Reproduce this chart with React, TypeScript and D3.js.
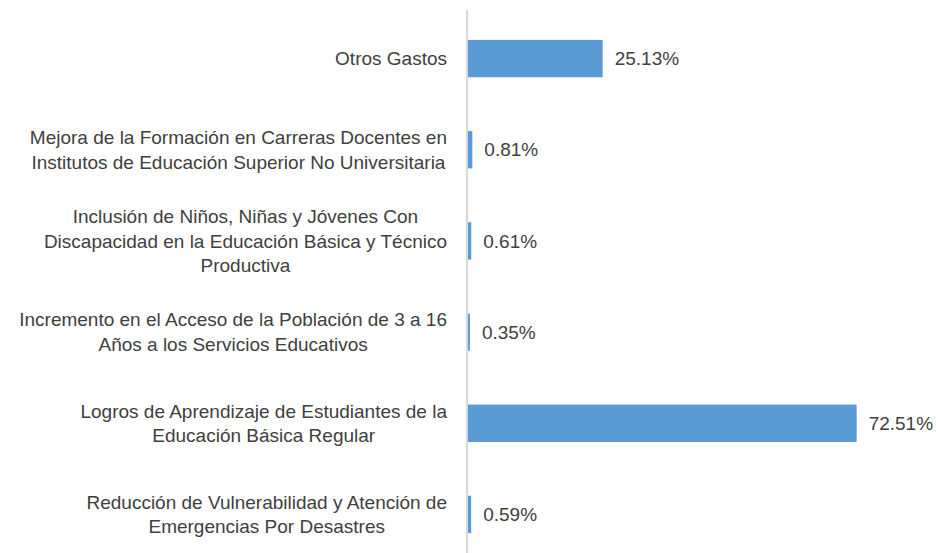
import React, { useEffect, useRef } from "react";
import * as d3 from "d3";

// categories, top to bottom, already split into lines as in the picture
const categories = [
  ["Otros Gastos"],
  ["Mejora de la Formación en Carreras Docentes en", "Institutos de Educación Superior No Universitaria"],
  ["Inclusión de Niños, Niñas y Jóvenes Con", "Discapacidad en la Educación Básica y Técnico", "Productiva"],
  ["Incremento en el Acceso de la Población de 3 a 16", "Años a los Servicios Educativos"],
  ["Logros de Aprendizaje de Estudiantes de la", "Educación Básica Regular"],
  ["Reducción de Vulnerabilidad y Atención de", "Emergencias Por Desastres"],
];
const values = [25.13, 0.81, 0.61, 0.35, 72.51, 0.59];
const valueLabels = ["25.13%", "0.81%", "0.61%", "0.35%", "72.51%", "0.59%"];

const W = 939;
const H = 553;

const App = () => {
  const ref = useRef<SVGSVGElement>(null);

  useEffect(() => {
    const svg = d3.select(ref.current);
    svg.selectAll("*").remove(); // Clear previous content

    const font = "'Liberation Sans', Arial, sans-serif";
    const textColor = "#404040";
    const axisX = 468;

    const y = d3
      .scaleBand<number>()
      .domain(d3.range(categories.length))
      .range([13, 560])
      .paddingInner(0.59)
      .paddingOuter(0.295);

    const x = d3.scaleLinear().domain([0, 80]).range([axisX, axisX + 80 * 5.36]);

    // bars
    svg
      .selectAll("rect.bar")
      .data(values)
      .join("rect")
      .attr("class", "bar")
      .attr("x", x(0))
      .attr("y", (_, i) => y(i)!)
      .attr("width", (d) => x(d) - x(0))
      .attr("height", y.bandwidth())
      .attr("fill", "#5b9bd5");

    // vertical axis line
    svg
      .append("line")
      .attr("x1", axisX - 1)
      .attr("x2", axisX - 1)
      .attr("y1", 10)
      .attr("y2", H)
      .attr("stroke", "#d9d9d9")
      .attr("stroke-width", 2);

    // value labels
    svg
      .selectAll("text.val")
      .data(values)
      .join("text")
      .attr("class", "val")
      .attr("x", (d) => x(d) + 12)
      .attr("y", (_, i) => y(i)! + y.bandwidth() / 2)
      .attr("dy", "0.35em")
      .style("font-family", font)
      .style("font-size", "19px")
      .style("fill", textColor)
      .text((_, i) => valueLabels[i]);

    // category labels, centred lines, right edge at 447
    const lineH = 24.5;
    categories.forEach((lines, i) => {
      const cy = y(i)! + y.bandwidth() / 2;
      const g = svg.append("g");
      const texts = lines.map((ln, k) =>
        g
          .append("text")
          .attr("y", cy + (k - (lines.length - 1) / 2) * lineH)
          .attr("dy", "0.35em")
          .attr("text-anchor", "middle")
          .style("font-family", font)
          .style("font-size", "19px")
          .style("fill", textColor)
          .text(ln)
      );
      const maxW = d3.max(texts, (t) => (t.node() as SVGTextElement).getComputedTextLength()) || 0;
      texts.forEach((t) => t.attr("x", 447 - maxW / 2));
    });
  }, []);

  return (
    <svg ref={ref} width={W} height={H} style={{ position: "absolute", left: 0, top: 0 }} />
  );
};

export default App;
